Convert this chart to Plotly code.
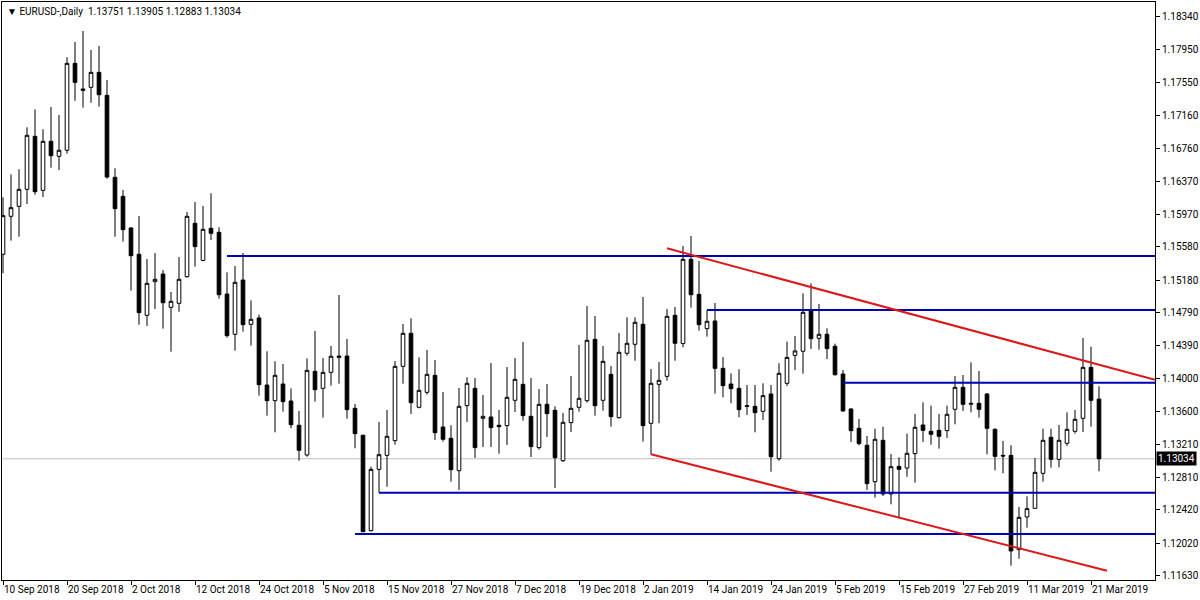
import plotly.graph_objects as go

# ---------------- data ----------------
tick_labels = ["10 Sep 2018", "20 Sep 2018", "2 Oct 2018", "12 Oct 2018", "24 Oct 2018",
               "5 Nov 2018", "15 Nov 2018", "27 Nov 2018", "7 Dec 2018", "19 Dec 2018",
               "2 Jan 2019", "14 Jan 2019", "24 Jan 2019", "5 Feb 2019", "15 Feb 2019",
               "27 Feb 2019", "11 Mar 2019", "21 Mar 2019"]
bars_per_label = 8

opens = [1.15490, 1.15946, 1.16066, 1.16270, 1.16907, 1.16258, 1.16847, 1.16667, 1.16739, 1.17783,
         1.17475, 1.17495, 1.17675, 1.17399, 1.16414, 1.16186, 1.15806, 1.15490, 1.14757, 1.15161,
         1.15253, 1.14853, 1.14901, 1.15221, 1.15862, 1.15417, 1.15802, 1.15754, 1.15013, 1.14529,
         1.15181, 1.14649, 1.14725, 1.13920, 1.13732, 1.13932, 1.13728, 1.13436, 1.13079, 1.14084,
         1.13880, 1.14072, 1.14268, 1.14268, 1.13640, 1.13316, 1.12171, 1.12907, 1.13075, 1.13252,
         1.14144, 1.14541, 1.13652, 1.13832, 1.14036, 1.13416, 1.13280, 1.12891, 1.13672, 1.13880,
         1.13520, 1.13536, 1.13436, 1.13432, 1.13736, 1.13928, 1.13544, 1.13168, 1.13688, 1.13616,
         1.13011, 1.13468, 1.13652, 1.13732, 1.14469, 1.13736, 1.14048, 1.13528, 1.14301, 1.14409,
         1.14649, 1.13460, 1.13928, 1.14024, 1.14757, 1.14417, 1.15429, 1.15009, 1.14597, 1.14689,
         1.14120, 1.13932, 1.13880, 1.13672, 1.13664, 1.13604, 1.13812, 1.13035, 1.13940, 1.14276,
         1.14325, 1.14817, 1.14481, 1.14529, 1.14385, 1.14052, 1.13632, 1.13400, 1.13196, 1.12759,
         1.13256, 1.12611, 1.12943, 1.12923, 1.13096, 1.13440, 1.13364, 1.13376, 1.13372, 1.13628,
         1.13892, 1.13700, 1.13700, 1.13812, 1.13388, 1.13075, 1.13075, 1.11943, 1.12335, 1.12439,
         1.12859, 1.13292, 1.13027, 1.13220, 1.13364, 1.13520, 1.14132, 1.13751]
highs = [1.16174, 1.16450, 1.16510, 1.17015, 1.17231, 1.16991, 1.17259, 1.17163, 1.17856, 1.18040,
         1.18172, 1.17944, 1.17992, 1.17583, 1.16522, 1.16262, 1.15818, 1.15950, 1.15433, 1.15505,
         1.15301, 1.15037, 1.15457, 1.15998, 1.16118, 1.16070, 1.16222, 1.15814, 1.15273, 1.15349,
         1.15505, 1.14937, 1.14765, 1.14325, 1.14204, 1.14172, 1.13880, 1.13608, 1.14240, 1.14569,
         1.14244, 1.14389, 1.15001, 1.14473, 1.13692, 1.13325, 1.12939, 1.13476, 1.13620, 1.14208,
         1.14653, 1.14721, 1.14252, 1.14341, 1.14220, 1.13836, 1.13436, 1.13884, 1.14012, 1.14004,
         1.13800, 1.14184, 1.13620, 1.14136, 1.14244, 1.14437, 1.14004, 1.13872, 1.13932, 1.13664,
         1.13584, 1.14028, 1.14401, 1.14869, 1.14749, 1.14389, 1.14148, 1.14545, 1.14733, 1.14733,
         1.14977, 1.14112, 1.14196, 1.14833, 1.14857, 1.15590, 1.15710, 1.15409, 1.14821, 1.14905,
         1.14256, 1.14060, 1.14108, 1.13920, 1.13920, 1.13940, 1.13920, 1.14180, 1.14441, 1.14509,
         1.15021, 1.15141, 1.14893, 1.14601, 1.14417, 1.14100, 1.13640, 1.13512, 1.13308, 1.13396,
         1.13420, 1.13091, 1.13051, 1.13336, 1.13572, 1.13712, 1.13672, 1.13572, 1.13672, 1.14028,
         1.14040, 1.14192, 1.14088, 1.13824, 1.13400, 1.13248, 1.13196, 1.12455, 1.12583, 1.13043,
         1.13396, 1.13396, 1.13440, 1.13592, 1.13620, 1.14485, 1.14381, 1.13905]
lows = [1.15261, 1.15654, 1.15702, 1.16094, 1.16206, 1.16178, 1.16530, 1.16502, 1.16698, 1.17335,
        1.17251, 1.17311, 1.17263, 1.16398, 1.15702, 1.15642, 1.15053, 1.14645, 1.14629, 1.14833,
        1.14597, 1.14320, 1.14801, 1.15209, 1.15341, 1.15405, 1.15662, 1.14957, 1.14489, 1.14333,
        1.14561, 1.14393, 1.13792, 1.13552, 1.13352, 1.13600, 1.13400, 1.13011, 1.13059, 1.13720,
        1.13528, 1.13912, 1.13936, 1.13516, 1.13160, 1.12151, 1.12159, 1.12627, 1.12699, 1.13204,
        1.13936, 1.13572, 1.13640, 1.13804, 1.13260, 1.13240, 1.12759, 1.12659, 1.13476, 1.13043,
        1.13176, 1.13176, 1.13095, 1.13200, 1.13596, 1.13492, 1.13055, 1.13144, 1.13296, 1.12683,
        1.12995, 1.13356, 1.13600, 1.13708, 1.13552, 1.13612, 1.13420, 1.13516, 1.14272, 1.14212,
        1.13240, 1.13087, 1.13460, 1.13972, 1.14212, 1.14373, 1.14849, 1.14573, 1.14501, 1.13816,
        1.13772, 1.13700, 1.13532, 1.13560, 1.13352, 1.13500, 1.12879, 1.13011, 1.13908, 1.14100,
        1.14056, 1.14353, 1.14345, 1.14232, 1.14032, 1.13600, 1.13236, 1.13196, 1.12659, 1.12567,
        1.12587, 1.12487, 1.12319, 1.12819, 1.12747, 1.13236, 1.13204, 1.13156, 1.13284, 1.13448,
        1.13608, 1.13592, 1.13528, 1.13087, 1.12895, 1.12859, 1.11750, 1.11834, 1.12207, 1.12431,
        1.12759, 1.12927, 1.12931, 1.13188, 1.13336, 1.13356, 1.13420, 1.12883]
closes = [1.15954, 1.16050, 1.16270, 1.16919, 1.16242, 1.16847, 1.16674, 1.16739, 1.17783, 1.17555,
          1.17460, 1.17675, 1.17407, 1.16418, 1.16038, 1.15786, 1.15473, 1.14789, 1.15141, 1.15189,
          1.14909, 1.14925, 1.15189, 1.15946, 1.15582, 1.15790, 1.15742, 1.15005, 1.14513, 1.15153,
          1.14645, 1.14709, 1.13924, 1.13732, 1.14036, 1.13720, 1.13444, 1.13136, 1.14096, 1.13864,
          1.14072, 1.14265, 1.14252, 1.13624, 1.13336, 1.12159, 1.12907, 1.13083, 1.13304, 1.14144,
          1.14541, 1.13708, 1.13856, 1.14048, 1.13348, 1.13268, 1.12903, 1.13664, 1.13940, 1.13168,
          1.13544, 1.13408, 1.13420, 1.13772, 1.13988, 1.13552, 1.13180, 1.13688, 1.13576, 1.13047,
          1.13472, 1.13640, 1.13760, 1.14457, 1.13672, 1.14204, 1.13540, 1.14313, 1.14421, 1.14673,
          1.13432, 1.13940, 1.13976, 1.14745, 1.14421, 1.15429, 1.15005, 1.14645, 1.14685, 1.14120,
          1.13912, 1.13876, 1.13624, 1.13664, 1.13588, 1.13792, 1.13059, 1.14060, 1.14252, 1.14329,
          1.14793, 1.14477, 1.14529, 1.14357, 1.14044, 1.13608, 1.13372, 1.13216, 1.12735, 1.13268,
          1.12611, 1.12939, 1.12907, 1.13100, 1.13412, 1.13376, 1.13328, 1.13304, 1.13568, 1.13892,
          1.13688, 1.13692, 1.13628, 1.13400, 1.13063, 1.13067, 1.11927, 1.12331, 1.12435, 1.12871,
          1.13256, 1.13027, 1.13256, 1.13388, 1.13508, 1.14132, 1.13736, 1.13034]

# horizontal levels (price, first bar index)
level_prices = [1.15469, 1.14821, 1.13946, 1.12627, 1.12131]
level_start_bar = [28, 88, 105, 47, 44]

# channel trend lines (bar index, price)
upper_line_x = [83, 144]
upper_line_y = [1.15562, 1.13982]
lower_line_x = [81, 138]
lower_line_y = [1.13088, 1.11690]

last_price = 1.13034
title_text = "\u25BC EURUSD-,Daily  1.13751 1.13905 1.12883 1.13034"

y_ticks = [1.18340, 1.17950, 1.17550, 1.17160, 1.16760, 1.16370, 1.15970, 1.15580, 1.15180,
           1.14790, 1.14390, 1.14000, 1.13600, 1.13210, 1.12810, 1.12420, 1.12020, 1.11630]

x_range = [-0.125, 144]
y_range = [1.11578, 1.18520]

# ---------------- figure ----------------
bar_x = list(range(len(opens)))
FONT = "Roboto, Liberation Sans, DejaVu Sans, sans-serif"

fig = go.Figure()

fig.add_trace(go.Candlestick(
    x=bar_x, open=opens, high=highs, low=lows, close=closes,
    increasing=dict(line=dict(color="black", width=1), fillcolor="white"),
    decreasing=dict(line=dict(color="black", width=1), fillcolor="black"),
    whiskerwidth=0, hoverinfo="skip", showlegend=False,
))

LEVEL_COLOR = "#0000b4"
for p, s in zip(level_prices, level_start_bar):
    fig.add_trace(go.Scatter(x=[s, x_range[1]], y=[p, p], mode="lines",
                             line=dict(color=LEVEL_COLOR, width=2),
                             hoverinfo="skip", showlegend=False))

TREND_COLOR = "#dc1818"
fig.add_trace(go.Scatter(x=upper_line_x, y=upper_line_y, mode="lines",
                         line=dict(color=TREND_COLOR, width=2),
                         hoverinfo="skip", showlegend=False))
fig.add_trace(go.Scatter(x=lower_line_x, y=lower_line_y, mode="lines",
                         line=dict(color=TREND_COLOR, width=2),
                         hoverinfo="skip", showlegend=False))

# bid line (behind the candles)
fig.add_shape(type="line", xref="paper", x0=0, x1=1, yref="y", y0=last_price, y1=last_price,
              line=dict(color="#c0c0c0", width=1), layer="below")

# price tag on the axis
fig.add_annotation(xref="paper", x=1, xanchor="left", xshift=1, yref="y", y=last_price,
                   text=f"{last_price:.5f}", showarrow=False, bgcolor="black",
                   font=dict(family=FONT, size=10, color="white"), borderpad=1)

# symbol header
fig.add_annotation(xref="paper", yref="paper", x=0, y=1, xanchor="left", yanchor="top",
                   xshift=3, yshift=-2, text=title_text, showarrow=False,
                   font=dict(family=FONT, size=10, color="black"))

fig.update_layout(
    width=1200, height=600,
    margin=dict(l=2, r=45, t=2, b=20, autoexpand=False),
    paper_bgcolor="white", plot_bgcolor="white",
    showlegend=False, boxgap=0.35,
    xaxis=dict(range=x_range, showgrid=False, zeroline=False, showline=True, mirror=True,
               linecolor="black", linewidth=1, ticks="outside", ticklen=4, tickcolor="black",
               tickvals=[i * bars_per_label for i in range(len(tick_labels))],
               ticktext=tick_labels, ticklabelposition="outside right", tickangle=0,
               tickfont=dict(family=FONT, size=10, color="black"), automargin=False,
               rangeslider=dict(visible=False), fixedrange=True),
    yaxis=dict(range=y_range, side="right", showgrid=False, zeroline=False, showline=True,
               mirror=True, linecolor="black", linewidth=1, ticks="outside", ticklen=4,
               tickcolor="black", tickvals=y_ticks, ticktext=[f"{v:.5f}" for v in y_ticks],
               tickfont=dict(family=FONT, size=10, color="black"), automargin=False,
               fixedrange=True),
)

fig.write_html("out.html", config={"displayModeBar": False},
               post_script="document.body.style.margin='0';document.body.style.overflow='hidden';")
